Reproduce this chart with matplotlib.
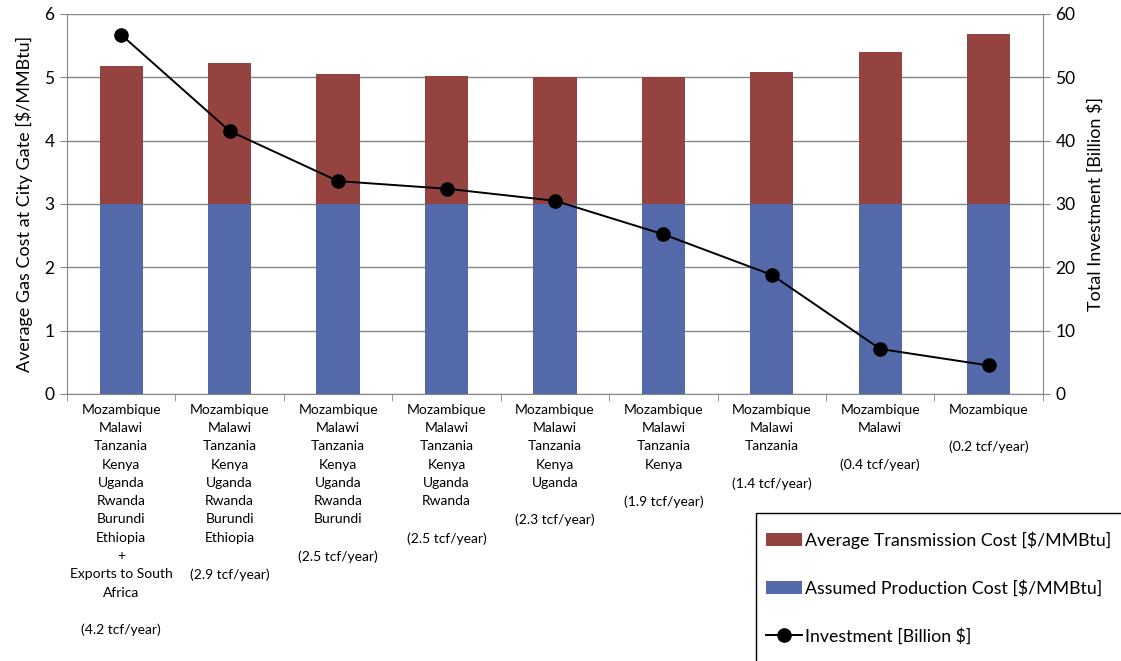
import matplotlib.pyplot as plt
import numpy as np
from matplotlib.patches import Rectangle, Patch
from matplotlib.lines import Line2D

plt.rcParams['font.family'] = ['Lato', 'DejaVu Sans']

# Export scenarios, largest to smallest
scenarios = [
    "Mozambique\nMalawi\nTanzania\nKenya\nUganda\nRwanda\nBurundi\nEthiopia\n+\nExports to South\nAfrica\n\n(4.2 tcf/year)",
    "Mozambique\nMalawi\nTanzania\nKenya\nUganda\nRwanda\nBurundi\nEthiopia\n\n(2.9 tcf/year)",
    "Mozambique\nMalawi\nTanzania\nKenya\nUganda\nRwanda\nBurundi\n\n(2.5 tcf/year)",
    "Mozambique\nMalawi\nTanzania\nKenya\nUganda\nRwanda\n\n(2.5 tcf/year)",
    "Mozambique\nMalawi\nTanzania\nKenya\nUganda\n\n(2.3 tcf/year)",
    "Mozambique\nMalawi\nTanzania\nKenya\n\n(1.9 tcf/year)",
    "Mozambique\nMalawi\nTanzania\n\n(1.4 tcf/year)",
    "Mozambique\nMalawi\n\n(0.4 tcf/year)",
    "Mozambique\n\n(0.2 tcf/year)",
]
production_cost = [3.0, 3.0, 3.0, 3.0, 3.0, 3.0, 3.0, 3.0, 3.0]
total_cost = [5.17, 5.22, 5.05, 5.02, 5.00, 5.00, 5.08, 5.40, 5.68]
transmission_cost = [t - p for t, p in zip(total_cost, production_cost)]
investment = [56.7, 41.5, 33.6, 32.4, 30.5, 25.2, 18.8, 7.1, 4.5]

RED = '#954340'
BLUE = '#5469AA'
GRID = '#868686'

fig = plt.figure(figsize=(11.21, 6.61), dpi=100)
ax = fig.add_axes([0.0598, 0.404, 0.8705, 0.575])
x = np.arange(len(scenarios))

ax.bar(x, production_cost, width=0.4, color=BLUE, zorder=2)
ax.bar(x, transmission_cost, bottom=production_cost, width=0.4, color=RED, zorder=2)

ax.set_xlim(-0.5, len(scenarios) - 0.5)
ax.set_ylim(0, 6)
ax.set_yticks(range(7))
ax.yaxis.grid(True, color=GRID, linewidth=1, zorder=0)
ax.set_axisbelow(True)
ax.set_ylabel("Average Gas Cost at City Gate [$/MMBtu]", fontsize=13, labelpad=8)
ax.tick_params(axis='y', labelsize=12.5, length=5, color=GRID, pad=4)

# category labels under each bar, separator ticks between categories
ax.set_xticks(x)
ax.set_xticklabels(scenarios, fontsize=10, linespacing=1.63, va='top')
ax.tick_params(axis='x', which='major', length=0, pad=7)
ax.set_xticks(np.arange(-0.5, len(scenarios), 1), minor=True)
ax.tick_params(axis='x', which='minor', length=5, color=GRID)

for side in ('left', 'right', 'bottom'):
    ax.spines[side].set_color(GRID)
ax.spines['top'].set_visible(False)

ax2 = ax.twinx()
ax2.plot(x, investment, color='black', linewidth=1.4, marker='o',
         markersize=9.5, zorder=3)
ax2.set_ylim(0, 60)
ax2.set_yticks(range(0, 61, 10))
ax2.set_ylabel("Total Investment [Billion $]", fontsize=13, labelpad=8)
ax2.tick_params(axis='y', labelsize=12.5, length=5, color=GRID, pad=4)
for side in ax2.spines:
    ax2.spines[side].set_visible(False)

# legend box running off the lower right corner
fig.patches.append(Rectangle((0.6745, -0.05), 0.4, 0.274, transform=fig.transFigure,
                             facecolor='white', edgecolor='black', linewidth=1))
handles = [
    Patch(facecolor=RED, label="Average Transmission Cost [$/MMBtu]"),
    Patch(facecolor=BLUE, label="Assumed Production Cost [$/MMBtu]"),
    Line2D([], [], color='black', marker='o', markersize=9.5, linewidth=1.4,
           label="Investment [Billion $]"),
]
fig.legend(handles=handles, loc='upper left', bbox_to_anchor=(0.677, 0.207),
           frameon=False, fontsize=12.8, labelspacing=1.75, handlelength=2.0,
           handleheight=0.8, handletextpad=0.2, borderaxespad=0)

fig.savefig('out.png', dpi=100)
